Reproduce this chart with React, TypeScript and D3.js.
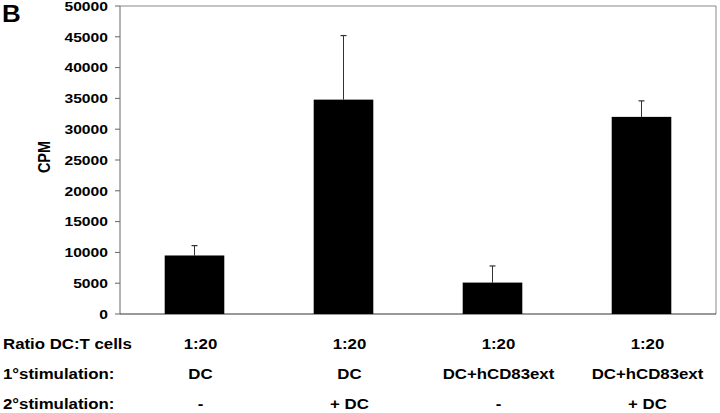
import React from "react";
import * as d3 from "d3";

const categories = ["A", "B", "C", "D"];
const values = [9500, 34800, 5100, 32000];
const errorTops = [11100, 45200, 7800, 34600];
const yTicks = [0, 5000, 10000, 15000, 20000, 25000, 30000, 35000, 40000, 45000, 50000];
const rowTitles = ["Ratio DC:T cells", "1°stimulation:", "2°stimulation:"];
const row1 = ["1:20", "1:20", "1:20", "1:20"];
const row2 = ["DC", "DC", "DC+hCD83ext", "DC+hCD83ext"];
const row3 = ["-", "+ DC", "-", "+ DC"];

const W = 720, H = 413;
const left = 120, right = 716, top = 6, bottom = 314;
const font = "'Liberation Sans', Arial, sans-serif";
const SX = 1.16;

function T({ x, y, anchor = "start", size, children }: any) {
  return (
    <text transform={`translate(${x},${y}) scale(${SX},1)`} textAnchor={anchor} fontFamily={font} fontWeight="bold" fontSize={size}>
      {children}
    </text>
  );
}

export default function App() {
  const x = d3.scaleBand<string>().domain(categories).range([left, right]).paddingInner(0.6).paddingOuter(0.3);
  const y = d3.scaleLinear().domain([0, 50000]).range([bottom, top]);
  const bw = x.bandwidth();
  const rows = [row1, row2, row3];
  const rowY = [349, 379, 409];
  return (
    <svg width={W} height={H} style={{ position: "absolute", left: 0, top: 0, background: "#fff" }}>
      <text transform="translate(2,22) scale(1.08,1)" fontFamily={font} fontWeight="bold" fontSize={24}>B</text>
      <line x1={left} x2={right} y1={top} y2={top} stroke="#888" strokeWidth={1} />
      <line x1={right} x2={right} y1={top} y2={bottom} stroke="#888" strokeWidth={1} />
      <line x1={left} x2={left} y1={top} y2={bottom} stroke="#666" strokeWidth={1} />
      <line x1={left} x2={right} y1={bottom} y2={bottom} stroke="#333" strokeWidth={1} />
      {yTicks.map((t) => (
        <g key={t}>
          <line x1={left - 5} x2={left} y1={y(t)} y2={y(t)} stroke="#666" />
          <T x={108} y={y(t) + 4.8} anchor="end" size={13.5}>{t}</T>
        </g>
      ))}
      <text transform={`translate(49.5,157) scale(${SX},1) rotate(-90)`} textAnchor="middle" fontFamily={font} fontWeight="bold" fontSize={14.5}>CPM</text>
      {categories.map((c, i) => {
        const cx = (x(c) as number) + bw / 2;
        return (
          <g key={c}>
            <line x1={cx} x2={cx} y1={y(errorTops[i])} y2={y(values[i])} stroke="#333" strokeWidth={1} />
            <line x1={cx - 3} x2={cx + 3} y1={y(errorTops[i])} y2={y(errorTops[i])} stroke="#333" strokeWidth={1.2} />
            <rect x={x(c)} y={y(values[i])} width={bw} height={bottom - y(values[i])} fill="#000" />
          </g>
        );
      })}
      {rowTitles.map((t, r) => (
        <T key={t} x={3} y={rowY[r]} size={14.5}>{t}</T>
      ))}
      {rows.map((row, r) =>
        row.map((lab, i) => (
          <T key={r + "-" + i} x={(x(categories[i]) as number) + bw / 2 + 6} y={rowY[r]} anchor="middle" size={14.5}>{lab}</T>
        ))
      )}
    </svg>
  );
}
